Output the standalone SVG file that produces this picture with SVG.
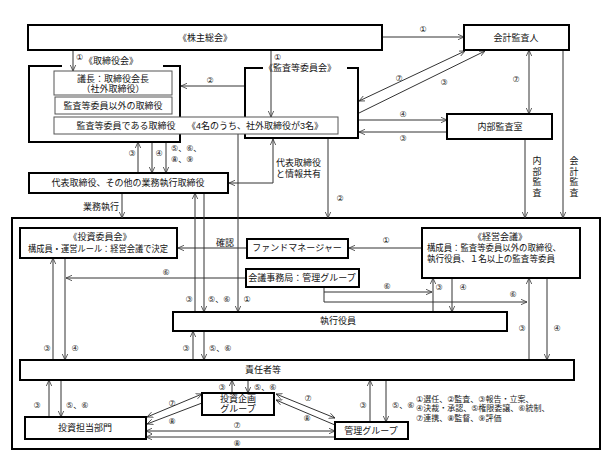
<svg xmlns="http://www.w3.org/2000/svg" width="612" height="469" viewBox="0 0 612 469">
<style>
text{font-family:'Liberation Sans','Noto Sans CJK JP',sans-serif;font-size:9px;fill:#111;dominant-baseline:central}
.m{text-anchor:middle}
.n{font-family:'DejaVu Sans','Noto Sans CJK JP',sans-serif;font-size:8px;fill:#222}
.g{font-size:8px}
.b{fill:#fff;stroke:#000;stroke-width:2}
.o{fill:none;stroke:#000;stroke-width:2}
.i{fill:#fff;stroke:#555;stroke-width:1}
.c{fill:none;stroke:#333;stroke-width:1}
.e{marker-end:url(#a)}
.s{marker-start:url(#a)}
</style>
<defs>
<marker id="a" viewBox="0 0 10 10" refX="10" refY="5" markerWidth="6" markerHeight="6" markerUnits="userSpaceOnUse" orient="auto-start-reverse">
<path d="M0,0.5 L10,5 L0,9.5" fill="none" stroke="#333" stroke-width="1.3"/>
</marker>
</defs>
<rect width="612" height="469" fill="#fff"/>

<g id="big-box"><rect class="o" x="12" y="218" width="588" height="231"/></g>

<g id="connectors">
<path class="c e" d="M382,37 H464"/><text class="n m" x="423" y="29">①</text>
<path class="c e" d="M73,50 V71"/><text class="n" x="76" y="57">①</text>
<path class="c e" d="M271,50 V117"/><text class="n" x="274" y="57">①</text>
<path class="c e" d="M245,86 H181"/><text class="n m" x="210" y="80">②</text>
<path class="c e s" d="M359,101 L465,51"/><text class="n m" x="399" y="78">⑦</text>
<path class="c e" d="M359,113 L485,51"/><text class="n m" x="444" y="82">③</text>
<path class="c e" d="M358,120 H447"/><text class="n m" x="403" y="114">④</text>
<path class="c e" d="M447,132 H359"/><text class="n m" x="403" y="138">③</text>
<path class="c e s" d="M529,50 V114"/><text class="n m" x="516" y="79">⑦</text>
<path class="c e" d="M563,50 V218"/>
<text class="m"><tspan x="574" y="161">会</tspan><tspan x="574" y="171.5">計</tspan><tspan x="574" y="182">監</tspan><tspan x="574" y="192.5">査</tspan></text>
<path class="c e" d="M525,139 V218"/>
<text class="m"><tspan x="537" y="161">内</tspan><tspan x="537" y="171.5">部</tspan><tspan x="537" y="182">監</tspan><tspan x="537" y="192.5">査</tspan></text>

<path class="c e" d="M138,173 V142"/><text class="n m" x="132" y="153">③</text>
<path class="c e" d="M152,142 V173"/><text class="n m" x="159" y="153">④</text>
<path class="c e" d="M166,142 V173"/><text class="n" x="171" y="148">⑤、⑥、</text><text class="n" x="171" y="159">⑧、⑨</text>
<path class="c e s" d="M273,139 V183 H229"/><text x="276" y="163">代表取締役</text><text x="276" y="174">と情報共有</text>
<path class="c e" d="M328,138 V218"/><text class="n m" x="340" y="198">②</text>
<path class="c e" d="M122,193 V218"/><text x="119" y="207" text-anchor="end">業務執行</text>

<path class="c e" d="M195,312 V193"/><text class="n m" x="189" y="299">③</text>
<path class="c e" d="M204,193 V312"/><text class="n" x="208" y="299">⑤、⑥</text>
<path class="c e" d="M238,134 V312"/><text class="n m" x="247" y="299">①</text>

<path class="c e" d="M247,248 H178"/><text class="m" x="225" y="243">確認</text>
<path class="c e" d="M422,248 H349"/><text class="n m" x="386" y="240">①</text>
<path class="c e" d="M246,278 H66"/><text class="n m" x="166" y="272">⑥</text>
<path class="c e" d="M53,360 V258"/><text class="n m" x="47" y="348">③</text>
<path class="c e" d="M65,258 V360"/><text class="n m" x="75" y="348">④</text>

<path class="c" d="M324,287 V302"/>
<path class="c e" d="M324,292 H432"/><text class="n m" x="387" y="286">⑥</text>
<path class="c e" d="M324,302 H527"/><text class="n m" x="513" y="294">⑥</text>
<path class="c e" d="M433,312 V278"/><text class="n m" x="439" y="287">③</text>
<path class="c e" d="M452,278 V312"/><text class="n m" x="463" y="287">④</text>
<path class="c e" d="M529,360 V278"/><text class="n m" x="522" y="328">③</text>
<path class="c e" d="M547,278 V360"/><text class="n m" x="557" y="328">④</text>

<path class="c e" d="M193,360 V331"/><text class="n m" x="186" y="348">③</text>
<path class="c e" d="M204,331 V360"/><text class="n" x="209" y="348">⑤、⑥</text>

<path class="c e" d="M49,417 V380"/><text class="n m" x="37" y="405">③</text>
<path class="c e" d="M61,380 V417"/><text class="n" x="66" y="405">⑤、⑥</text>
<path class="c e" d="M232,393 V380"/><text class="n m" x="222" y="387">③</text>
<path class="c e" d="M248,380 V393"/><text class="n" x="254" y="387">⑤、⑥</text>
<path class="c e" d="M370,422 V380"/><text class="n m" x="363" y="405">③</text>
<path class="c e" d="M386,380 V422"/><text class="n" x="392" y="405">⑤、⑥</text>

<path class="c e s" d="M147,417 L202,394"/><text class="n m" x="172" y="403">⑦</text>
<path class="c e" d="M202,403 L147,424"/><text class="n m" x="172" y="421">⑧</text>
<path class="c e s" d="M276,394 L335,418"/><text class="n m" x="308" y="398">⑦</text>
<path class="c e" d="M335,425 L276,400"/><text class="n m" x="307" y="418">⑧</text>
<path class="c e s" d="M146,431 H335"/><text class="n m" x="237" y="425">⑦</text>
<path class="c e" d="M335,437 H146"/><text class="n m" x="237" y="443">⑧</text>
</g>

<g id="kabunushi-sokai"><rect class="b" x="28" y="25" width="354" height="25"/><text class="m" x="205" y="38">《株主総会》</text></g>
<g id="kaikei-kansanin"><rect class="b" x="464" y="25" width="105" height="25"/><text class="m" x="516" y="38">会計監査人</text></g>

<g id="torishimariyakukai">
<path class="o" d="M62,66 H29 V142 H180 V66 H163"/>
<text class="m" x="111" y="61">《取締役会》</text>
<rect class="i" x="54" y="71" width="118" height="24"/>
<text class="m" x="113" y="79">議長：取締役会長</text>
<text class="m" x="113" y="89">（社外取締役）</text>
<rect class="i" x="55" y="97" width="117" height="17"/>
<text class="m" x="113" y="106">監査等委員以外の取締役</text>
</g>

<g id="kansatouiinkai">
<path class="o" d="M263,68 H245 V138 H358 V68 H347"/>
<text class="m" x="300" y="68">《監査等委員会》</text>
</g>

<g id="kansatouiin-torishimariyaku">
<rect class="i" x="54" y="117" width="284" height="17"/>
<text class="m" x="126" y="126">監査等委員である取締役</text>
<text class="m" x="255" y="126">《4名のうち、社外取締役が3名》</text>
</g>

<g id="naibu-kansashitsu"><rect class="b" x="447" y="114" width="105" height="25"/><text class="m" x="500" y="127">内部監査室</text></g>

<g id="daihyo-torishimariyaku"><rect class="b" x="29" y="173" width="199" height="20"/><text class="m" x="128" y="183">代表取締役、その他の業務執行取締役</text></g>

<g id="toshi-iinkai"><rect class="b" x="20" y="228" width="157" height="30"/>
<text class="m" x="100" y="237">《投資委員会》</text>
<text class="m" x="98" y="249" textLength="140" lengthAdjust="spacingAndGlyphs">構成員・運営ルール：経営会議で決定</text></g>

<g id="fund-manager"><rect class="b" x="247" y="239" width="101" height="19"/><text class="m" x="297" y="248">ファンドマネージャー</text></g>

<g id="kaigi-jimukyoku"><rect class="b" x="246" y="269" width="113" height="18"/><text class="m" x="302" y="278">会議事務局：管理グループ</text></g>

<g id="keiei-kaigi"><rect class="b" x="422" y="228" width="158" height="50"/>
<text class="m" x="500" y="237">《経営会議》</text>
<text x="427" y="248" textLength="134" lengthAdjust="spacingAndGlyphs">構成員：監査等委員以外の取締役、</text>
<text x="427" y="259" textLength="128" lengthAdjust="spacingAndGlyphs">執行役員、１名以上の監査等委員</text></g>

<g id="shikko-yakuin"><rect class="b" x="173" y="312" width="334" height="19"/><text class="m" x="338" y="321">執行役員</text></g>

<g id="sekininsha"><rect class="b" x="20" y="360" width="554" height="20"/><text class="m" x="263" y="370">責任者等</text></g>

<g id="toshi-kikaku"><rect class="b" x="202" y="393" width="72" height="22"/><text class="m" x="238" y="399">投資企画</text><text class="m" x="238" y="409">グループ</text></g>

<g id="kanri-group"><rect class="b" x="335" y="422" width="73" height="17"/><text class="m" x="371" y="431">管理グループ</text></g>

<g id="toshi-tanto"><rect class="b" x="25" y="417" width="121" height="22"/><text class="m" x="85" y="428">投資担当部門</text></g>

<g id="legend">
<text class="n" x="416" y="399">①選任、②監査、③報告・立案、</text>
<text class="n" x="416" y="408.5">④決裁・承認、⑤権限委譲、⑥統制、</text>
<text class="n" x="416" y="418">⑦連携、⑧監督、⑨評価</text>
</g>
</svg>
